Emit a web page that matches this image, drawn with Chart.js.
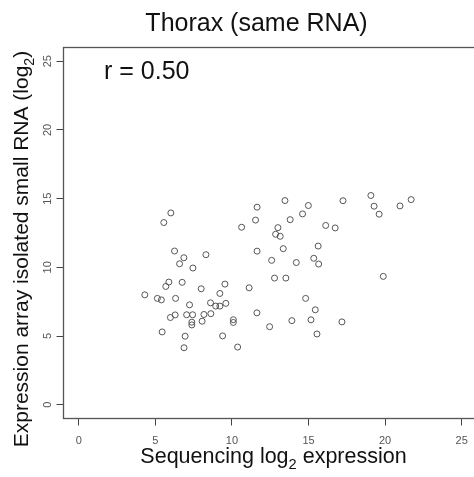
<!DOCTYPE html>
<html><head><meta charset="utf-8">
<script src="https://cdn.jsdelivr.net/npm/chart.js@4.4.0/dist/chart.umd.min.js"></script>
<style>
html,body{margin:0;padding:0;overflow:hidden;background:#fff;width:474px;height:477px}
#wrap{position:absolute;left:0;top:0;width:500px;height:477px}
</style>
</head><body><div id="wrap"><canvas id="c" width="500" height="477"></canvas></div>
<script>
const xValues=[6.01,5.55,6.25,6.86,6.58,8.30,7.45,5.88,5.68,6.75,
7.99,9.54,9.21,11.12,4.31,5.13,5.39,6.32,7.23,8.60,
8.94,9.21,9.60,5.98,6.29,7.04,7.43,8.17,8.62,7.38,
7.38,8.05,10.09,10.09,11.63,5.44,6.94,9.39,6.87,10.37,
13.46,11.64,14.99,14.61,13.80,11.54,10.63,13.00,12.85,13.15,
17.25,19.07,19.28,19.61,20.97,21.70,16.12,16.74,11.64,13.35,
15.63,12.59,14.20,15.34,15.66,12.78,13.52,19.88,14.81,15.44,
13.91,15.16,17.18,12.46,15.55];
const yValues=[13.96,13.26,11.19,10.70,10.26,10.92,9.95,8.93,8.61,8.91,
8.44,8.78,8.10,8.51,8.00,7.74,7.63,7.74,7.27,7.42,
7.18,7.18,7.38,6.35,6.54,6.55,6.55,6.57,6.63,6.01,
5.81,6.08,6.19,5.99,6.69,5.30,4.99,5.01,4.15,4.20,
14.86,14.38,14.50,13.89,13.47,13.44,12.92,12.89,12.41,12.26,
14.85,15.23,14.45,13.87,14.47,14.93,13.05,12.87,11.18,11.36,
11.55,10.51,10.35,10.66,10.24,9.22,9.22,9.34,7.74,6.91,
6.12,6.18,6.03,5.68,5.15];
const xTicks=[0,5,10,15,20,25];
const yTicks=[0,5,10,15,20,25];
const titleText='Thorax (same RNA)';
const corrText='r = 0.50';
const xLabelParts=[['Sequencing log',false],['2',true],[' expression',false]];
const yLabelParts=[['Expression array isolated small RNA (log',false],['2',true],[')',false]];

const FAM='"Liberation Sans", Arial, sans-serif';

function drawParts(ctx, parts, size, cx, baseY){
  const subSize=size*0.68;
  let total=0;
  const widths=parts.map(p=>{ctx.font=(p[1]?subSize:size)+'px '+FAM;const w=ctx.measureText(p[0]).width;total+=w;return w;});
  let x=cx-total/2;
  ctx.textAlign='left';ctx.textBaseline='alphabetic';
  parts.forEach((p,i)=>{
    ctx.font=(p[1]?subSize:size)+'px '+FAM;
    ctx.fillText(p[0],x,p[1]?baseY+size*0.28:baseY);
    x+=widths[i];
  });
}

const textPlugin={
  id:'texts',
  afterDraw(chart){
    const ctx=chart.ctx, a=chart.chartArea;
    ctx.save();
    ctx.strokeStyle='#555';ctx.lineWidth=1.3;
    ctx.strokeRect(a.left,a.top,a.right-a.left,a.bottom-a.top);
    ctx.fillStyle='#111';
    ctx.font='25px '+FAM;ctx.textAlign='center';ctx.textBaseline='alphabetic';
    ctx.fillText(titleText,256.5,31);
    ctx.textAlign='left';
    ctx.fillText(corrText,104,79);
    drawParts(ctx,xLabelParts,21.5,273.5,463);
    ctx.save();
    ctx.translate(28,249);ctx.rotate(-Math.PI/2);
    drawParts(ctx,yLabelParts,21,0,0);
    ctx.restore();
    ctx.restore();
  }
};

const tickFont={family:FAM,size:11};
new Chart(document.getElementById('c'),{
  type:'scatter',
  data:{datasets:[{
    data:xValues.map((x,i)=>({x:x,y:yValues[i]})),
    pointStyle:'circle',pointRadius:3,pointHoverRadius:3,
    borderWidth:1,borderColor:'#555',backgroundColor:'rgba(0,0,0,0)'
  }]},
  options:{
    responsive:false,animation:false,events:[],
    layout:{padding:{left:0,right:23,top:47.5,bottom:0}},
    plugins:{legend:{display:false},tooltip:{enabled:false},title:{display:false}},
    scales:{
      x:{type:'linear',min:-1,max:26,
        afterBuildTicks:s=>{s.ticks=xTicks.map(v=>({value:v}));},
        afterFit:s=>{s.height=58.5;},
        grid:{drawOnChartArea:false,drawTicks:true,tickLength:7,color:'#444',lineWidth:1},
        border:{display:false},
        ticks:{font:tickFont,color:'#555',padding:9,maxRotation:0,autoSkip:false}
      },
      y:{type:'linear',min:-1,max:26,
        afterBuildTicks:s=>{s.ticks=yTicks.map(v=>({value:v}));},
        afterFit:s=>{s.width=63.5;},
        grid:{drawOnChartArea:false,drawTicks:true,tickLength:7,color:'#444',lineWidth:1},
        border:{display:false},
        ticks:{font:tickFont,color:'#555',padding:2,minRotation:90,maxRotation:90,crossAlign:'center',autoSkip:false}
      }
    }
  },
  plugins:[textPlugin]
});
</script></body></html>
